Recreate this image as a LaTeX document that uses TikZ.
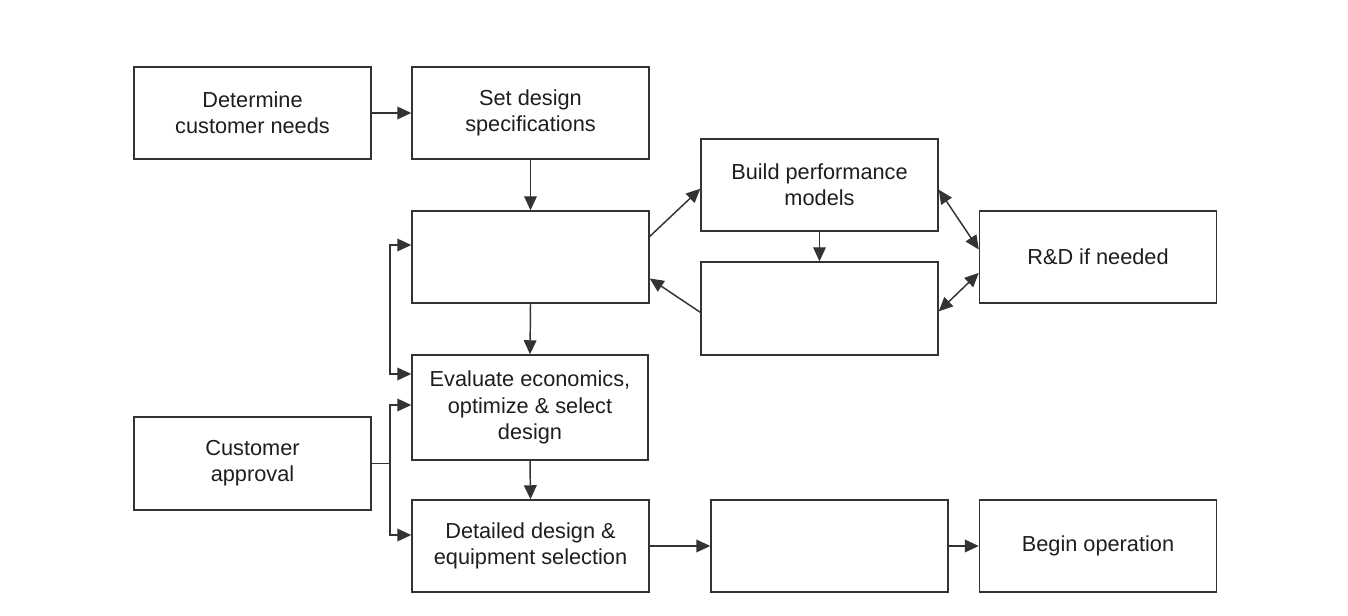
\documentclass[tikz,border=0pt]{standalone}
\usepackage{fontspec}
\setmainfont{Liberation Sans}
\usetikzlibrary{arrows.meta,calc}
\definecolor{ln}{HTML}{333333}
\definecolor{tx}{HTML}{1E1E1E}
\tikzset{
  box/.style={draw=ln, line width=1.1pt, rectangle, minimum width=177.75pt, minimum height=69pt, inner sep=2pt, align=center, text=tx, font=\fontsize{16.3}{19.7}\selectfont},
  con/.style={draw=ln, line width=1.1pt},
  arr/.style={con, -{Triangle[length=10.5pt,width=9.5pt]}},
  arrb/.style={con, {Triangle[length=10.5pt,width=9.5pt]}-{Triangle[length=10.5pt,width=9.5pt]}}
}
\begin{document}
\begin{tikzpicture}[x=0.75pt,y=-0.75pt]
\useasboundingbox[fill=white] (0,0) rectangle (1348,616);
\node[box] (A) at (252.5,113) {Determine\\customer needs};
\node[box] (B) at (530.5,113) {Set design\\specifications};
\node[box] (C) at (530.5,257) {};
\node[box] (D) at (819.5,185) {Build performance\\models};
\node[box, minimum height=69.75pt] (E) at (819.5,308.5) {};
\node[box] (F) at (1098,257) {R\&D if needed};
\node[box, minimum width=177pt, minimum height=78.75pt] (G) at (530,407.5) {Evaluate economics,\\optimize \& select\\design};
\node[box, minimum height=69.75pt] (H) at (252.5,463.5) {Customer\\approval};
\node[box] (I) at (530.5,546) {Detailed design \&\\equipment selection};
\node[box] (J) at (829.5,546) {};
\node[box] (K) at (1098,546) {Begin operation};

\draw[arr] (A.east) -- (B.west);
\draw[arr] (B.south) -- (C.north);
\draw[arr] ($(C.north east)!0.28!(C.south east)$) -- ($(D.north west)!0.54!(D.south west)$);
\draw[arr] (D.south) -- (E.north);
\draw[arr] ($(E.north west)!0.54!(E.south west)$) -- ($(C.north east)!0.73!(C.south east)$);
\draw[arrb] ($(D.north east)!0.55!(D.south east)$) -- ($(F.north west)!0.42!(F.south west)$);
\draw[arrb] ($(E.north east)!0.53!(E.south east)$) -- ($(F.north west)!0.67!(F.south west)$);
\draw[arr] (C.south) -- (G.north);
\draw[arr] (G.south) -- (I.north);

\coordinate (l1) at (390,245);
\coordinate (l2) at (390,374);
\draw[arrb] (C.west |- l1) -- (l1) -- (l2) -- (G.west |- l2);

\coordinate (m0) at (390,463.5);
\coordinate (m1) at (390,405);
\coordinate (m2) at (390,535);
\draw[con] (H.east) -- (m0);
\draw[arrb] (G.west |- m1) -- (m1) -- (m2) -- (I.west |- m2);

\draw[arr] (I.east) -- (J.west);
\draw[arr] (J.east) -- (K.west);
\end{tikzpicture}
\end{document}
